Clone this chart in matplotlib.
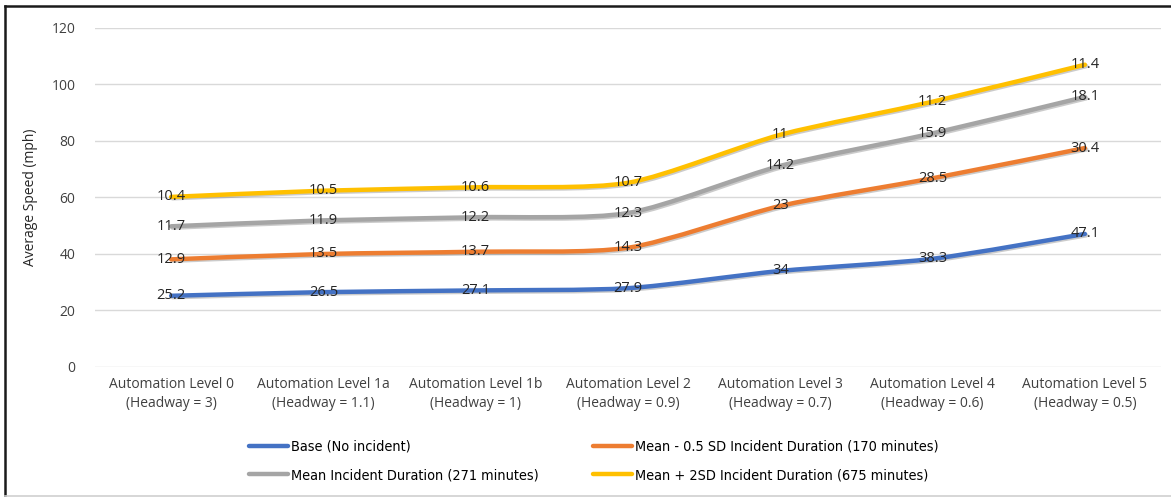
import numpy as np
import matplotlib
matplotlib.use("Agg")
import matplotlib.pyplot as plt
import matplotlib.patheffects as pe
from matplotlib.path import Path
from matplotlib.patches import PathPatch
from matplotlib.lines import Line2D
from matplotlib import font_manager

plt.rcParams['font.family'] = ['Open Sans', 'DejaVu Sans']

categories = ["Automation Level 0\n(Headway = 3)",
              "Automation Level 1a\n(Headway = 1.1)",
              "Automation Level 1b\n(Headway = 1)",
              "Automation Level 2\n(Headway = 0.9)",
              "Automation Level 3\n(Headway = 0.7)",
              "Automation Level 4\n(Headway = 0.6)",
              "Automation Level 5\n(Headway = 0.5)"]

# stacked segments (labels show the segment values)
base = [25.2, 26.5, 27.1, 27.9, 34, 38.3, 47.1]
mean_minus = [12.9, 13.5, 13.7, 14.3, 23, 28.5, 30.4]
mean_inc = [11.7, 11.9, 12.2, 12.3, 14.2, 15.9, 18.1]
mean_plus = [10.4, 10.5, 10.6, 10.7, 11, 11.2, 11.4]

series_names = ["Base (No incident)",
                "Mean - 0.5 SD Incident Duration (170 minutes)",
                "Mean Incident Duration (271 minutes)",
                "Mean + 2SD Incident Duration (675 minutes)"]
colors = ["#4472C4", "#ED7D31", "#A5A5A5", "#FFC000"]


def smooth_path(x, y):
    # catmull-rom -> cubic bezier, like excel's smoothed line
    pts = np.column_stack([x, y])
    verts = [pts[0]]
    codes = [Path.MOVETO]
    n = len(pts)
    for i in range(n - 1):
        p0 = pts[i - 1] if i > 0 else pts[i]
        p1 = pts[i]
        p2 = pts[i + 1]
        p3 = pts[i + 2] if i + 2 < n else pts[i + 1]
        c1 = p1 + (p2 - p0) / 8.0
        c2 = p2 - (p3 - p1) / 8.0
        verts += [c1, c2, p2]
        codes += [Path.CURVE4] * 3
    return Path(verts, codes)


fig = plt.figure(figsize=(11.71, 4.97), dpi=100)
ax = fig.add_axes([0.0811, 0.2616, 0.9104, 0.6821])

x = np.arange(len(categories))
segments = [base, mean_minus, mean_inc, mean_plus]
cum = np.cumsum(np.array(segments), axis=0)

for seg, top, col in zip(segments, cum, colors):
    patch = PathPatch(smooth_path(x, top), facecolor='none', edgecolor=col,
                      lw=3.2, capstyle='round', joinstyle='round', zorder=3)
    patch.set_path_effects([pe.SimpleLineShadow(offset=(1.0, -1.0), shadow_color='#555555', alpha=0.3),
                            pe.Normal()])
    ax.add_patch(patch)
    for xi, yi, v in zip(x, top, seg):
        ax.text(xi, yi, f"{v:g}", ha='center', va='center', fontsize=10.5,
                color='#262626', zorder=4)

ax.set_xlim(-0.5, len(categories) - 0.5)
ax.set_ylim(0, 120)
ax.set_yticks(range(0, 121, 20))
ax.set_xticks(x)
ax.set_xticklabels(categories, fontsize=10, color='#404040', linespacing=1.35)
ax.tick_params(axis='y', labelsize=10, colors='#404040', length=0, pad=14)
ax.tick_params(axis='x', length=0, pad=7)
ax.grid(axis='y', color='#D9D9D9', lw=1)
ax.set_axisbelow(True)
for s in ax.spines.values():
    s.set_visible(False)
ax.set_ylabel("Average Speed (mph)", fontsize=10, color='#262626', labelpad=10)

# legend: matplotlib fills columns first, so reorder to get the reference rows
order = [0, 2, 1, 3]
handles = [Line2D([0], [0], color=colors[i], lw=3.2, solid_capstyle='round') for i in order]
labels = [series_names[i] for i in order]
names = {f.name for f in font_manager.fontManager.ttflist}
leg_family = 'Liberation Sans Narrow' if 'Liberation Sans Narrow' in names else 'DejaVu Sans'
fig.legend(handles, labels, loc='lower left', bbox_to_anchor=(0.2126, 0.03),
           ncol=2, frameon=False, handlelength=2.7, handletextpad=0.2,
           columnspacing=3.8, labelspacing=1.0, borderpad=0, borderaxespad=0,
           prop={'family': leg_family, 'size': 10.4, 'stretch': 'condensed'})

# screenshot frame: dark top/left edge, faint bottom edge
fig.add_artist(Line2D([0.004, 1.0], [0.987, 0.987], transform=fig.transFigure, color='#1a1a1a', lw=1.8))
fig.add_artist(Line2D([0.0045, 0.0045], [0.002, 0.987], transform=fig.transFigure, color='#1a1a1a', lw=1.8))
fig.add_artist(Line2D([0.004, 1.0], [0.002, 0.002], transform=fig.transFigure, color='#D0D0D0', lw=1.2))

fig.savefig("out.png", dpi=100)
